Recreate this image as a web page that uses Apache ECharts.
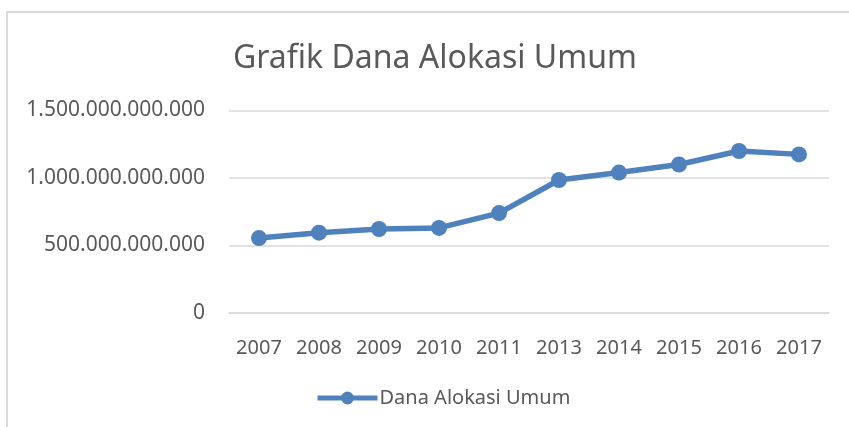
<!DOCTYPE html>
<html>
<head>
<meta charset="utf-8">
<title>Grafik Dana Alokasi Umum</title>
<script src="https://cdn.jsdelivr.net/npm/echarts@6/dist/echarts.min.js"></script>
<style>
  html, body { margin: 0; padding: 0; background: #fff; }
  #main { width: 849px; height: 427px; }
</style>
</head>
<body>
<div id="main"></div>
<script>
// data
var years = ['2007', '2008', '2009', '2010', '2011', '2013', '2014', '2015', '2016', '2017'];
var danaAlokasiUmum = [
  555000000000, 595000000000, 622000000000, 630000000000, 740000000000,
  985000000000, 1040000000000, 1100000000000, 1200000000000, 1175000000000
];

var chart = echarts.init(document.getElementById('main'));

function titik(v) {
  // thousands separated with dots
  return String(v).replace(/\B(?=(\d{3})+(?!\d))/g, '.');
}

var font = 'Noto Sans';
var grey = '#595959';
var blue = '#4f81bd';

var option = {
  backgroundColor: '#fff',
  animation: false,
  graphic: [{
    type: 'rect',
    shape: { x: 7, y: 12, width: 900, height: 500 },
    style: { fill: 'none', stroke: '#d9d9d9', lineWidth: 2 },
    silent: true
  }],
  title: {
    text: 'Grafik Dana Alokasi Umum',
    left: 233,
    top: 39,
    padding: 0,
    textStyle: {
      fontFamily: font,
      fontSize: 32,
      fontWeight: 'normal',
      color: grey,
      lineHeight: 40
    }
  },
  legend: {
    data: ['Dana Alokasi Umum'],
    left: 310,
    top: 383,
    itemWidth: 60,
    itemHeight: 16,
    itemGap: 10,
    lineStyle: { width: 5 },
    textStyle: { fontFamily: font, fontSize: 20, color: grey, padding: [0, 0, 0, -3] }
  },
  grid: { left: 229, right: 20, top: 110.5, bottom: 114 },
  xAxis: {
    type: 'category',
    data: years,
    axisLine: { lineStyle: { color: '#d9d9d9', width: 1.5 } },
    axisTick: { show: false },
    axisLabel: { fontFamily: font, fontSize: 20, color: grey, margin: 25 }
  },
  yAxis: {
    type: 'value',
    min: 0,
    max: 1500000000000,
    interval: 500000000000,
    axisLine: { show: false },
    axisTick: { show: false },
    splitLine: { lineStyle: { color: '#d9d9d9', width: 1.5 } },
    axisLabel: {
      fontFamily: font,
      fontSize: 21,
      color: grey,
      margin: 24,
      formatter: titik
    }
  },
  series: [{
    name: 'Dana Alokasi Umum',
    type: 'line',
    data: danaAlokasiUmum,
    symbol: 'circle',
    symbolSize: 16,
    lineStyle: { color: blue, width: 5.5 },
    itemStyle: { color: blue }
  }]
};

chart.setOption(option);
</script>
</body>
</html>
